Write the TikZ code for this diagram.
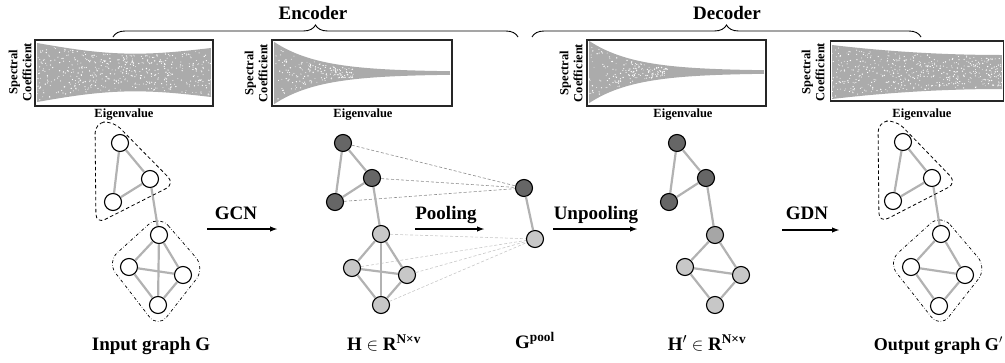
\documentclass[tikz,border=0pt]{standalone}
\usepackage{fontspec}
\setmainfont{Liberation Serif}
\usetikzlibrary{arrows.meta,decorations.pathreplacing}

\begin{document}
\begin{tikzpicture}[x=1pt,y=-1pt,
  lbl/.style={font=\fontsize{19}{22}\selectfont\bfseries, inner sep=0, anchor=base},
  axis/.style={font=\fontsize{12.5}{14}\selectfont\bfseries, inner sep=0},
  vtx/.style={circle, draw=black, line width=1.1pt, minimum size=17pt, inner sep=0},
  wv/.style={vtx, fill=white},
  dv/.style={vtx, fill=black!60},
  lv/.style={vtx, fill=black!22},
  mv/.style={vtx, fill=black!35},
  edge/.style={draw=black!30, line width=2.2pt},
  pooldark/.style={draw=black!45, line width=0.6pt, dash pattern=on 3pt off 2pt},
  poollight/.style={draw=black!22, line width=0.6pt, dash pattern=on 3pt off 2pt},
  flow/.style={-{Latex[length=8pt,width=5.5pt]}, line width=1.6pt},
  encl/.style={draw, dash pattern=on 3.5pt off 2.5pt, line width=0.8pt, rounded corners=10pt},
  encldot/.style={draw, dash dot, line width=0.7pt, rounded corners=14pt},
  frame/.style={draw=black!85, line width=1.3pt},
  scat/.style={fill=black!33},
  bracket/.style={draw, line width=0.9pt, decorate, decoration={brace, amplitude=12pt}}
]
\useasboundingbox (0,0) rectangle (1005,362);

% ---------- spectra ----------
% plot 1: broad band
\fill[scat] plot[domain=0:1, samples=60, variable=\s] ({37+174*\s},{43+5*\s+8*sin(180*\s)})
  -- plot[domain=1:0, samples=60, variable=\s] ({37+174*\s},{102-5*\s-8*sin(180*\s)}) -- cycle;
\pgfmathsetseed{11}
\foreach \i in {1,...,480}{
  \pgfmathsetmacro\sx{rnd}
  \pgfmathsetmacro\tp{43+5*\sx+8*sin(180*\sx)}
  \pgfmathsetmacro\bt{102-5*\sx-8*sin(180*\sx)}
  \pgfmathsetmacro\yy{\tp+1.5+(\bt-\tp-3)*rnd}
  \pgfmathsetmacro\rr{0.4+0.35*rnd}
  \fill[white] ({37+174*\sx},\yy) circle (\rr pt);
}
\node[frame, minimum width=178pt, minimum height=66pt, inner sep=0] (box1) at (124,73) {};
\node[axis, rotate=90, align=center] (sc1) at (20,72) {Spectral\\Coefficient};
\node[axis, anchor=base] (ev1) at (124,117) {Eigenvalue};

% plot 2: decaying band
\fill[scat] plot[domain=0:1, samples=80, variable=\s] ({274+176*\s},{73-30*exp(-176*\s/45)-1.2})
  -- plot[domain=1:0, samples=80, variable=\s] ({274+176*\s},{73+30*exp(-176*\s/45)+1.2}) -- cycle;
\foreach \i in {1,...,170}{
  \pgfmathsetmacro\sx{0.45*rnd}
  \pgfmathsetmacro\am{30*exp(-176*\sx/45)-1}
  \pgfmathsetmacro\yy{73+\am*(2*rnd-1)}
  \pgfmathsetmacro\rr{0.4+0.35*rnd}
  \fill[white] ({274+176*\sx},\yy) circle (\rr pt);
}
\node[frame, minimum width=180pt, minimum height=66pt, inner sep=0] (box2) at (362,73) {};
\node[axis, rotate=90, align=center] (sc2) at (256,73) {Spectral\\Coefficient};
\node[axis, anchor=base] (ev2) at (363,117) {Eigenvalue};

% plot 3: decaying band
\fill[scat] plot[domain=0:1, samples=80, variable=\s] ({589+175*\s},{72-30*exp(-175*\s/45)-1.2})
  -- plot[domain=1:0, samples=80, variable=\s] ({589+175*\s},{72+30*exp(-175*\s/45)+1.2}) -- cycle;
\foreach \i in {1,...,170}{
  \pgfmathsetmacro\sx{0.45*rnd}
  \pgfmathsetmacro\am{30*exp(-175*\sx/45)-1}
  \pgfmathsetmacro\yy{72+\am*(2*rnd-1)}
  \pgfmathsetmacro\rr{0.4+0.35*rnd}
  \fill[white] ({589+175*\sx},\yy) circle (\rr pt);
}
\node[frame, minimum width=179pt, minimum height=66pt, inner sep=0] (box3) at (676.5,73) {};
\node[axis, rotate=90, align=center] (sc3) at (571,73) {Spectral\\Coefficient};
\node[axis, anchor=base] (ev3) at (683,117) {Eigenvalue};

% plot 4: broad band narrowing to the right
\fill[scat] plot[domain=0:1, samples=60, variable=\s] ({832+170*\s},{45+10*(1-(1-\s)^2)})
  -- plot[domain=1:0, samples=60, variable=\s] ({832+170*\s},{99-10*(1-(1-\s)^2)}) -- cycle;
\foreach \i in {1,...,480}{
  \pgfmathsetmacro\sx{rnd}
  \pgfmathsetmacro\tp{45+10*(1-(1-\sx)^2)}
  \pgfmathsetmacro\bt{99-10*(1-(1-\sx)^2)}
  \pgfmathsetmacro\yy{\tp+1.5+(\bt-\tp-3)*rnd}
  \pgfmathsetmacro\rr{0.4+0.35*rnd}
  \fill[white] ({832+170*\sx},\yy) circle (\rr pt);
}
\node[frame, minimum width=173pt, minimum height=60pt, inner sep=0] (box4) at (917,71) {};
\node[axis, rotate=90, align=center] (sc4) at (813,72) {Spectral\\Coefficient};
\node[axis, anchor=base] (ev4) at (922,117) {Eigenvalue};

% ---------- encoder / decoder brackets ----------
\draw[bracket] (113,37) -- (518,37);
\draw[bracket] (532,37) -- (921,37);
\node[lbl] (enc) at (313,19) {Encoder};
\node[lbl] (dec) at (727,19) {Decoder};

% ---------- input graph ----------
\node[wv] (n1) at (120,143) {};
\node[wv] (n2) at (150,179) {};
\node[wv] (n3) at (113,202) {};
\node[wv] (n4) at (159,235) {};
\node[wv] (n5) at (129,267) {};
\node[wv] (n6) at (183,275) {};
\node[wv] (n7) at (158,305) {};
\foreach \a/\b in {n1/n2,n1/n3,n2/n3,n2/n4,n4/n5,n4/n6,n4/n7,n5/n6,n5/n7,n6/n7}
  \draw[edge] (\a) -- (\b);
\draw[encl] (95,123) -- (113,121) -- (175,184) -- (96,224) -- cycle;
\draw[encldot] (159,215) -- (205,268) -- (158,328) -- (107,262) -- cycle;
\node[lbl] (gin) at (151,350) {Input graph G};

% ---------- encoded graph H ----------
\node[dv] (d1) at (343,143) {};
\node[dv] (d2) at (372,178) {};
\node[dv] (d3) at (335,202) {};
\node[lv] (l1) at (381,234) {};
\node[lv] (l2) at (352,268) {};
\node[lv] (l3) at (407,275) {};
\node[lv] (l4) at (381,305) {};
\node[dv] (p1) at (524,188) {};
\node[lv] (p2) at (535,239) {};
\foreach \a in {d1,d2,d3} \draw[pooldark] (\a) -- (p1);
\foreach \a in {l1,l2,l3,l4} \draw[poollight] (\a) -- (p2);
\foreach \a/\b in {d1/d2,d1/d3,d2/d3,d2/l1,l1/l2,l1/l3,l1/l4,l2/l3,l2/l4,l3/l4,p1/p2}
  \draw[edge] (\a) -- (\b);
\node[lbl] (hlab) at (384,350) {H $\in$ R\textsuperscript{N×v}};
\node[lbl] (gpool) at (535,348) {G\textsuperscript{pool}};

% ---------- decoded graph H' ----------
\node[dv] (e1) at (677,143) {};
\node[dv] (e2) at (706,178) {};
\node[dv] (e3) at (669,202) {};
\node[mv] (f1) at (715,235) {};
\node[lv] (f2) at (685,267) {};
\node[lv] (f3) at (741,275) {};
\node[lv] (f4) at (715,305) {};
\foreach \a/\b in {e1/e2,e1/e3,e2/e3,e2/f1,f1/f2,f1/f3,f2/f3,f2/f4,f3/f4}
  \draw[edge] (\a) -- (\b);
\node[lbl] (hplab) at (707,350) {H$'$ $\in$ R\textsuperscript{N×v}};

% ---------- output graph ----------
\node[wv] (o1) at (903,142) {};
\node[wv] (o2) at (932,178) {};
\node[wv] (o3) at (893,201) {};
\node[wv] (o4) at (941,234) {};
\node[wv] (o5) at (911,267) {};
\node[wv] (o6) at (965,275) {};
\node[wv] (o7) at (939,306) {};
\foreach \a/\b in {o1/o2,o1/o3,o2/o3,o2/o4,o4/o5,o4/o6,o5/o6,o5/o7,o6/o7}
  \draw[edge] (\a) -- (\b);
\draw[encl] (878,122) -- (896,120) -- (957,183) -- (879,223) -- cycle;
\draw[encldot] (941,214) -- (987,268) -- (940,328) -- (888,262) -- cycle;
\node[lbl, font=\fontsize{18}{21}\selectfont\bfseries, anchor=base east] (gout) at (1003,350) {Output graph G$'$};

% ---------- operations ----------
\coordinate (a1s) at (207,229); \coordinate (a1e) at (278,229);
\coordinate (a2s) at (415,229); \coordinate (a2e) at (485,229);
\coordinate (a3s) at (553,229); \coordinate (a3e) at (638,229);
\coordinate (a4s) at (782,230); \coordinate (a4e) at (840,230);
\draw[flow] (a1s) -- (a1e);
\draw[flow] (a2s) -- (a2e);
\draw[flow] (a3s) -- (a3e);
\draw[flow] (a4s) -- (a4e);
\node[lbl] (gcn) at (236,219) {GCN};
\node[lbl] (pool) at (446,219) {Pooling};
\node[lbl] (unpool) at (596,219) {Unpooling};
\node[lbl] (gdn) at (807,219) {GDN};
\end{tikzpicture}
\end{document}
